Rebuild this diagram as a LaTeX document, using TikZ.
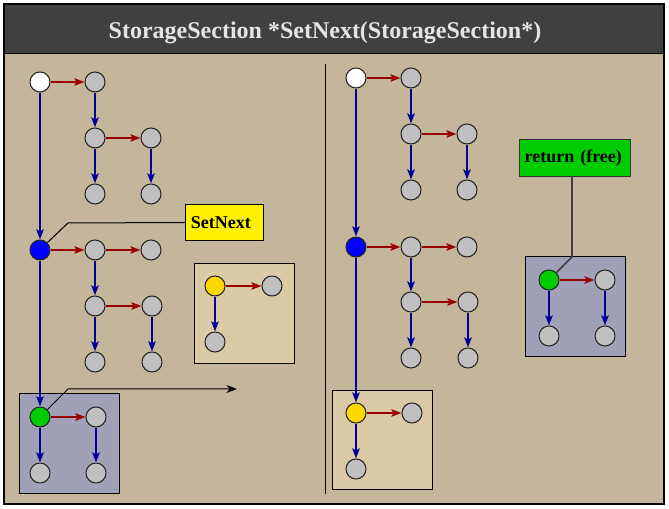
\documentclass[tikz,border=0pt]{standalone}
\usepackage{fontspec}
\setmainfont{Liberation Serif}
\usetikzlibrary{arrows.meta}
\definecolor{bodytan}{RGB}{196,182,154}
\definecolor{titlegray}{RGB}{64,64,64}
\definecolor{boxtan}{RGB}{218,202,165}
\definecolor{boxblue}{RGB}{160,160,182}
\definecolor{cellgray}{RGB}{192,192,192}
\definecolor{darkred}{RGB}{153,0,0}
\definecolor{darkblue}{RGB}{0,0,153}
\definecolor{okgreen}{RGB}{0,204,0}
\definecolor{gold}{RGB}{255,215,0}

\begin{document}
\begin{tikzpicture}[x=0.75pt, y=-0.75pt,
    cell/.style={circle, draw=black!85, line width=0.8pt, fill=cellgray, minimum size=15pt, inner sep=0pt},
    rarr/.style={darkred, line width=1.5pt, -{Stealth[length=7.5pt, width=5.5pt, inset=1.5pt]}},
    barr/.style={darkblue, line width=1.5pt, -{Stealth[length=7.5pt, width=5.5pt, inset=1.5pt]}},
    tagbox/.style={draw=black, line width=0.75pt, font=\fontsize{13.5}{16}\selectfont\bfseries, inner xsep=4pt, align=left}]
            \useasboundingbox (0,0) rectangle (669,509);
            % frame and title
            \fill[bodytan] (4,4) rectangle (664,504);
            \fill[titlegray] (4,4) rectangle (664,54);
            \draw[line width=0.75pt] (4,54) -- (664,54);
            \draw[line width=0.9pt] (4,4) rectangle (664,504);
            \node[text=black!10, font=\fontsize{18}{21}\selectfont\bfseries] (title) at (325,33) {StorageSection *SetNext(StorageSection*)};
            \draw[line width=0.75pt] (325,64) -- (325,494);
            % sub-boxes
            \draw[fill=boxblue, line width=0.75pt] (19,394) rectangle (119,494);
            \draw[fill=boxtan, line width=0.75pt] (194,264) rectangle (294,364);
            \draw[fill=boxtan, line width=0.75pt] (332,391) rectangle (432,490);
            \draw[fill=boxblue, line width=0.75pt] (525,257) rectangle (625,357);

            % left panel
            \node[cell, fill=white] (lw) at (40,82) {};
            \node[cell] (la1) at (95,82) {};
            \node[cell] (la2) at (95,138) {};
            \node[cell] (la3) at (151,138) {};
            \node[cell] (la4) at (95,194) {};
            \node[cell] (la5) at (151,194) {};
            \node[cell, fill=blue] (lb) at (40,250) {};
            \node[cell] (lb1) at (95,250) {};
            \node[cell] (lb2) at (151,250) {};
            \node[cell] (lb3) at (95,306) {};
            \node[cell] (lb4) at (152,306) {};
            \node[cell] (lb5) at (95,362) {};
            \node[cell] (lb6) at (152,362) {};
            \node[cell, fill=okgreen] (lg) at (40,417) {};
            \node[cell] (lg1) at (96,417) {};
            \node[cell] (lg2) at (40,473) {};
            \node[cell] (lg3) at (96,473) {};
            \node[cell, fill=gold] (ly) at (215,286) {};
            \node[cell] (ly1) at (272,286) {};
            \node[cell] (ly2) at (215,342) {};
            \draw[rarr] (lw) -- (la1);
            \draw[rarr] (la2) -- (la3);
            \draw[rarr] (lb) -- (lb1);
            \draw[rarr] (lb1) -- (lb2);
            \draw[rarr] (lb3) -- (lb4);
            \draw[rarr] (lg) -- (lg1);
            \draw[rarr] (ly) -- (ly1);
            \draw[barr] (lw) -- (lb);
            \draw[barr] (la1) -- (la2);
            \draw[barr] (la2) -- (la4);
            \draw[barr] (la3) -- (la5);
            \draw[barr] (lb) -- (lg);
            \draw[barr] (lb1) -- (lb3);
            \draw[barr] (lb3) -- (lb5);
            \draw[barr] (lb4) -- (lb6);
            \draw[barr] (lg) -- (lg2);
            \draw[barr] (lg1) -- (lg3);
            \draw[barr] (ly) -- (ly2);

            \node[tagbox, fill=yellow, text width=50.5pt, minimum height=27.5pt] (setnext) at (224.5,222.5) {SetNext};
            \coordinate (snbend) at (68,223);
            \draw[line width=0.75pt] (lb.45) -- (snbend) -- (setnext.west);
            \coordinate (gbend) at (68,389);
            \coordinate (gend) at (237,389);
            \draw[line width=0.75pt, -{Stealth[length=8pt, width=6pt]}] (lg.45) -- (gbend) -- (gend);

            % right panel
            \node[cell, fill=white] (rw) at (356,78) {};
            \node[cell] (ra1) at (411,78) {};
            \node[cell] (ra2) at (411,134) {};
            \node[cell] (ra3) at (467,134) {};
            \node[cell] (ra4) at (411,190) {};
            \node[cell] (ra5) at (467,190) {};
            \node[cell, fill=blue] (rb) at (356,247) {};
            \node[cell] (rb1) at (411,247) {};
            \node[cell] (rb2) at (467,247) {};
            \node[cell] (rb3) at (411,302) {};
            \node[cell] (rb4) at (468,302) {};
            \node[cell] (rb5) at (411,358) {};
            \node[cell] (rb6) at (468,358) {};
            \node[cell, fill=gold] (ry) at (356,413) {};
            \node[cell] (ry1) at (412,413) {};
            \node[cell] (ry2) at (356,469) {};
            \node[cell, fill=okgreen] (rg) at (549,280) {};
            \node[cell] (rg1) at (605,280) {};
            \node[cell] (rg2) at (549,336) {};
            \node[cell] (rg3) at (605,336) {};
            \draw[rarr] (rw) -- (ra1);
            \draw[rarr] (ra2) -- (ra3);
            \draw[rarr] (rb) -- (rb1);
            \draw[rarr] (rb1) -- (rb2);
            \draw[rarr] (rb3) -- (rb4);
            \draw[rarr] (ry) -- (ry1);
            \draw[rarr] (rg) -- (rg1);
            \draw[barr] (rw) -- (rb);
            \draw[barr] (ra1) -- (ra2);
            \draw[barr] (ra2) -- (ra4);
            \draw[barr] (ra3) -- (ra5);
            \draw[barr] (rb) -- (ry);
            \draw[barr] (rb1) -- (rb3);
            \draw[barr] (rb3) -- (rb5);
            \draw[barr] (rb4) -- (rb6);
            \draw[barr] (ry) -- (ry2);
            \draw[barr] (rg) -- (rg2);
            \draw[barr] (rg1) -- (rg3);

            \node[tagbox, draw=black!80, fill=okgreen, text width=75.5pt, minimum height=28pt] (retfree) at (575,158) {return (free)};
            \coordinate (rfbend) at (572,257);
            \draw[black!75, line width=1.3pt] (retfree.south -| rfbend) -- (rfbend) -- (rg.45);
        \end{tikzpicture}
\end{document}
